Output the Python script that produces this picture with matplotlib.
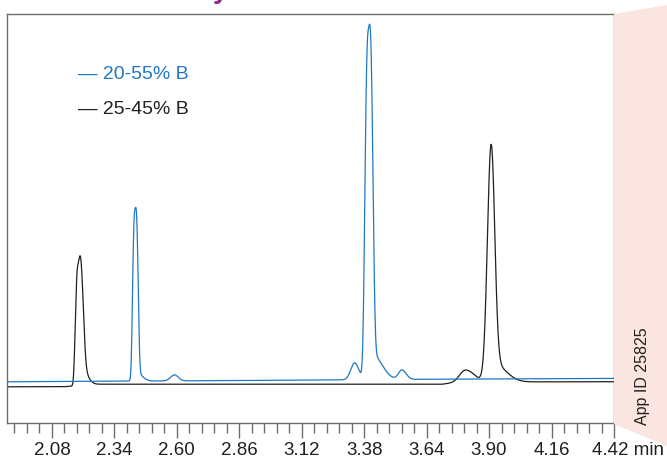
import numpy as np
import matplotlib
matplotlib.use("Agg")
import matplotlib.pyplot as plt
from matplotlib.ticker import MultipleLocator
from matplotlib.patches import Polygon
import matplotlib.transforms as mtransforms

plt.rcParams['font.family'] = ['Liberation Sans', 'DejaVu Sans']

# ---------------- data ----------------
tick_values = [2.08, 2.34, 2.60, 2.86, 3.12, 3.38, 3.64, 3.90, 4.16, 4.42]
tick_labels = ["2.08", "2.34", "2.60", "2.86", "3.12", "3.38", "3.64", "3.90", "4.16", "4.42"]
x_unit = "min"
x_range = [1.893, 4.42]
series_names = ["20-55% B", "25-45% B"]
app_id = "App ID 25825"

# 20-55% B : baseline points and peak table (retention time, height, half widths, shape)
blue_base_t = [1.893, 3.238, 3.613, 4.420]
blue_base_v = [41.2, 43.0, 43.7, 44.6]
blue_rt = [2.427, 2.435, 2.590, 3.340, 3.399, 3.415, 3.537]
blue_h = [168.0, 8.0, 6.0, 17.0, 345.5, 25.0, 9.4]
blue_hwl = [0.0117, 0.0100, 0.0187, 0.0187, 0.0167, 0.0120, 0.0167]
blue_hwr = [0.0125, 0.0250, 0.0187, 0.0208, 0.0179, 0.0450, 0.0208]
blue_shape = [3, 2, 2, 2, 3, 2, 2]

# 25-45% B
black_base_t = [1.893, 2.135, 2.247, 3.701, 3.780, 4.420]
black_base_v = [36.2, 36.3, 38.8, 38.7, 41.0, 41.3]
black_rt = [2.190, 2.203, 3.803, 3.908, 3.925]
black_h = [117.0, 20.0, 12.0, 233.0, 17.0]
black_hwl = [0.0133, 0.0100, 0.0291, 0.0179, 0.0120]
black_hwr = [0.0208, 0.0250, 0.0416, 0.0175, 0.0550]
black_shape = [3, 2, 2, 2, 2]


def trace(t, base_t, base_v, rt, h, hwl, hwr, shape):
    y = np.interp(t, base_t, base_v)
    for r, hh, wl, wr, p in zip(rt, h, hwl, hwr, shape):
        d = t - r
        w = np.where(d < 0, wl, wr)
        y = y + hh * np.exp(-np.log(2) * np.abs(d / w) ** p)
    return y


BLUE = "#1f77c6"
BLACK = "#231f20"
FRAME = "#6d6d6d"

fig = plt.figure(figsize=(6.67, 4.62), dpi=100)
ax = fig.add_axes([7 / 667, 39 / 462, 607 / 667, 409.5 / 462])

t = np.linspace(x_range[0], x_range[1], 4000)
yb = trace(t, blue_base_t, blue_base_v, blue_rt, blue_h, blue_hwl, blue_hwr, blue_shape)
yk = trace(t, black_base_t, black_base_v, black_rt, black_h, black_hwl, black_hwr, black_shape)
ax.plot(t, yk, color=BLACK, lw=0.9, zorder=2)
ax.plot(t, yb, color=BLUE, lw=0.9, zorder=3)

ax.set_xlim(x_range)
ax.set_ylim(0, 409.5)
ax.set_yticks([])
for s in ax.spines.values():
    s.set_color(FRAME)
    s.set_linewidth(1.0)

ax.set_xticks(tick_values)
labels = tick_labels[:-1] + [tick_labels[-1] + " " + x_unit]
ax.set_xticklabels(labels)
ax.xaxis.set_minor_locator(MultipleLocator(0.052))
ax.tick_params(axis='x', which='major', direction='out', length=10.8, width=1.0,
               color=FRAME, pad=3, labelsize=13.5, labelcolor=BLACK)
ax.tick_params(axis='x', which='minor', direction='out', length=7, width=1.0, color=FRAME)
last = ax.get_xticklabels()[-1]
last.set_horizontalalignment('left')
last.set_transform(last.get_transform() + mtransforms.ScaledTranslation(-22 / 100, 0, fig.dpi_scale_trans))

# legend as text
ax.text(0.117, 0.850, "\u2014 " + series_names[0], transform=ax.transAxes, color=BLUE,
        fontsize=14, ha='left', va='center')
ax.text(0.117, 0.766, "\u2014 " + series_names[1], transform=ax.transAxes, color=BLACK,
        fontsize=14, ha='left', va='center')

# pink side band
band = Polygon([[614 / 667, 448 / 462], [1.0, 457 / 462], [1.0, 16 / 462], [614 / 667, 38 / 462]],
               closed=True, transform=fig.transFigure, facecolor="#fbe5e1", edgecolor='none', zorder=0)
fig.patches.append(band)
fig.text(647 / 667, 37 / 462, app_id, rotation=90, rotation_mode='anchor', ha='left',
         va='baseline', fontsize=11.5, color=BLACK)

# cropped title descender
fig.text(221 / 667, 1.0 + 1.5 / 462, "y", fontsize=20, fontweight='bold', color="#8e2b8f",
         ha='center', va='baseline')

fig.savefig("out.png", dpi=100)
